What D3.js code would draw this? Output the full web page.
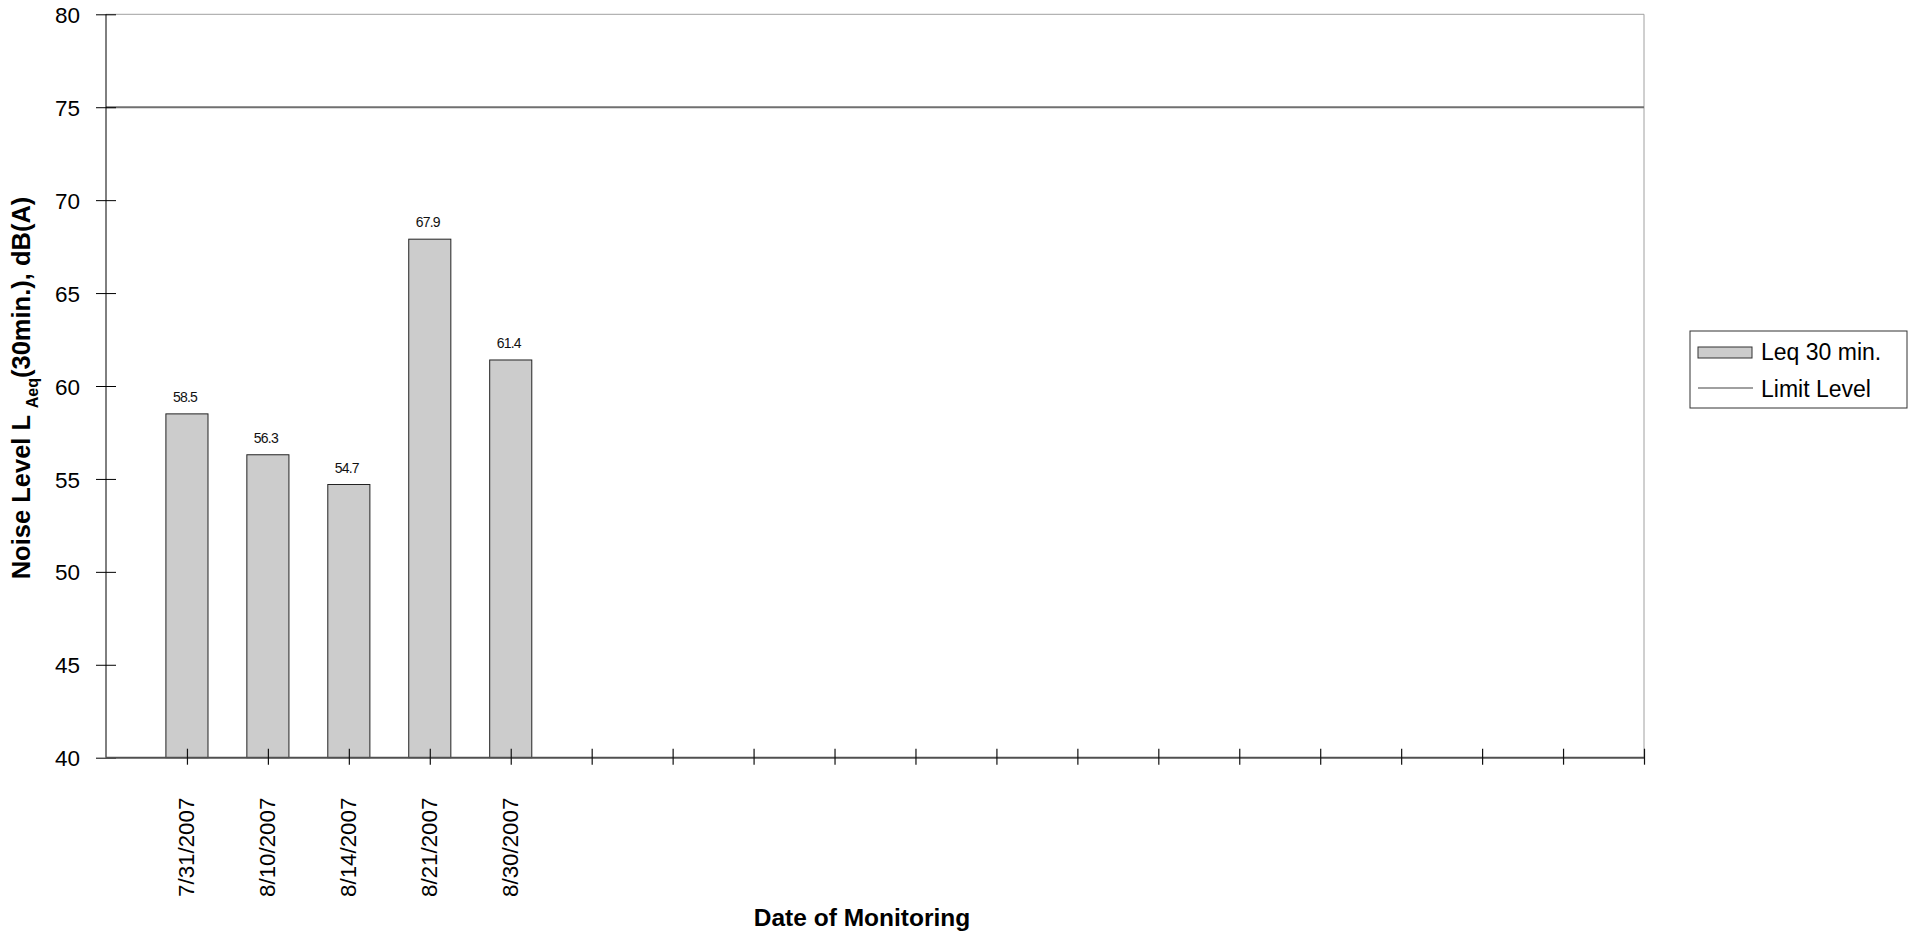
<!DOCTYPE html>
<html>
<head>
<meta charset="utf-8">
<script src="https://cdn.jsdelivr.net/npm/d3@7"></script>
<style>
  html, body { margin: 0; padding: 0; background: #fff; }
  svg { display: block; font-family: "Liberation Sans", Arial, sans-serif; }
</style>
</head>
<body>
<svg id="chart" width="1910" height="937"></svg>
<script>
// ---- data ----
const categories = ["7/31/2007", "8/10/2007", "8/14/2007", "8/21/2007", "8/30/2007",
  "", "", "", "", "", "", "", "", "", "", "", "", "", ""];
const leqValues = [58.5, 56.3, 54.7, 67.9, 61.4];
const limitLevel = 75;
const yTickValues = [40, 45, 50, 55, 60, 65, 70, 75, 80];
const seriesNames = ["Leq 30 min.", "Limit Level"];

// ---- layout ----
const svg = d3.select("#chart");
const plot = { left: 106, right: 1644, top: 14.3, bottom: 757.7 };

const x = d3.scaleLinear().domain([0, categories.length]).range([plot.left, plot.right]);
const y = d3.scaleLinear().domain([40, 80]).range([plot.bottom, plot.top]);
const step = x(1) - x(0);
const barW = step * 0.52;

// plot border (top & right)
svg.append("line").attr("x1", plot.left).attr("x2", plot.right)
  .attr("y1", y(80)).attr("y2", y(80)).attr("stroke", "#a0a0a0").attr("stroke-width", 1);
svg.append("line").attr("x1", plot.right).attr("x2", plot.right)
  .attr("y1", y(80)).attr("y2", y(40)).attr("stroke", "#a0a0a0").attr("stroke-width", 1);

// bars
svg.append("g").selectAll("rect").data(leqValues).join("rect")
  .attr("x", (d, i) => x(i + 1) - barW / 2)
  .attr("y", d => y(d))
  .attr("width", barW)
  .attr("height", d => y(40) - y(d))
  .attr("fill", "#cccccc")
  .attr("stroke", "#222")
  .attr("stroke-width", 1);

// bar value labels
svg.append("g").selectAll("text").data(leqValues).join("text")
  .attr("x", (d, i) => x(i + 1) - 2)
  .attr("y", d => y(d) - 12)
  .attr("text-anchor", "middle")
  .attr("font-size", 14)
  .attr("letter-spacing", "-0.8px")
  .attr("fill", "#111")
  .text(d => d.toFixed(1));

// limit line
svg.append("line")
  .attr("x1", plot.left).attr("x2", plot.right)
  .attr("y1", y(limitLevel)).attr("y2", y(limitLevel))
  .attr("stroke", "#707070").attr("stroke-width", 2);

// y axis
const yAxis = svg.append("g").attr("transform", `translate(${plot.left},0)`)
  .call(d3.axisLeft(y).tickValues(yTickValues).tickSize(10).tickPadding(16));
yAxis.select(".domain").attr("stroke", "#000").attr("d", `M0,${y(80)}V${y(40)}`);
yAxis.selectAll(".tick line").attr("x1", -10).attr("x2", 10).attr("stroke", "#000");
yAxis.selectAll(".tick text").attr("font-size", 22.5).attr("fill", "#000")
  .attr("font-family", "Liberation Sans, Arial, sans-serif").attr("dy", "0.36em");

// x axis
const xTickIdx = d3.range(1, categories.length + 1);
const xAxis = svg.append("g").attr("transform", `translate(0,${plot.bottom})`)
  .call(d3.axisBottom(x).tickValues(xTickIdx).tickFormat(i => categories[i - 1] || "").tickSize(0));
xAxis.select(".domain").attr("stroke", "#505050").attr("stroke-width", 2)
  .attr("d", `M${plot.left},0H${plot.right}`);
xAxis.selectAll(".tick line").attr("y1", -9).attr("y2", 7).attr("stroke", "#111").attr("stroke-width", 1.2);
xAxis.selectAll(".tick text")
  .attr("font-size", 22.3).attr("fill", "#000")
  .attr("font-family", "Liberation Sans, Arial, sans-serif")
  .attr("transform", "rotate(-90)")
  .attr("text-anchor", "end")
  .attr("x", -40).attr("y", 0).attr("dy", "0.3em")
  .attr("dx", 0);

// axis titles
svg.append("text")
  .attr("x", 862).attr("y", 926)
  .attr("text-anchor", "middle")
  .attr("font-size", 24.5).attr("font-weight", "bold")
  .text("Date of Monitoring");

const yt = svg.append("text")
  .attr("transform", `translate(30,${(plot.top + plot.bottom) / 2 + 2}) rotate(-90)`)
  .attr("text-anchor", "middle")
  .attr("font-size", 25.5).attr("font-weight", "bold");
yt.append("tspan").text("Noise Level L ");
yt.append("tspan").attr("font-size", 16).attr("dy", 8).text("Aeq");
yt.append("tspan").attr("dy", -8).text("(30min.), dB(A)");

// legend
const lg = svg.append("g");
lg.append("rect").attr("x", 1690).attr("y", 331).attr("width", 217).attr("height", 77)
  .attr("fill", "#fff").attr("stroke", "#333").attr("stroke-width", 1);
lg.append("rect").attr("x", 1698).attr("y", 347).attr("width", 54).attr("height", 11)
  .attr("fill", "#cccccc").attr("stroke", "#333").attr("stroke-width", 1);
lg.append("text").attr("x", 1761).attr("y", 360).attr("font-size", 23).text(seriesNames[0]);
lg.append("line").attr("x1", 1698).attr("x2", 1753).attr("y1", 388).attr("y2", 388)
  .attr("stroke", "#808080").attr("stroke-width", 1.5);
lg.append("text").attr("x", 1761).attr("y", 397).attr("font-size", 23).text(seriesNames[1]);
</script>
</body>
</html>
